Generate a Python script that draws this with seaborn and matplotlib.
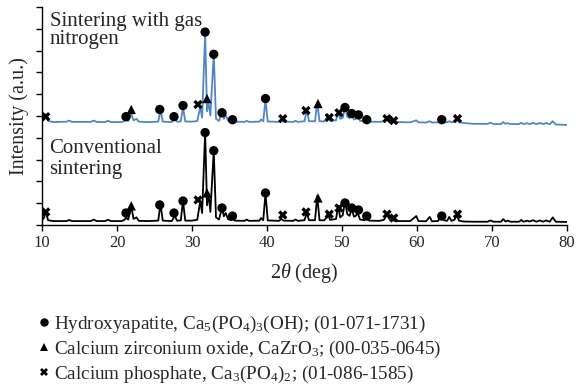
import matplotlib
matplotlib.use("Agg")
import matplotlib.pyplot as plt
import seaborn as sns
import pandas as pd

# ---- data ----
two_theta = [10.0, 10.3, 10.5, 10.8, 11.5, 13.3, 13.6, 14.0, 16.5, 16.9, 17.3, 18.4, 18.8, 19.2,
             20.6, 21.0, 21.2, 21.5, 21.9, 22.2, 22.6, 22.9, 24.0, 25.5, 25.8, 26.1, 27.3, 27.7,
             28.0, 28.5, 28.8, 29.1, 30.0, 30.7, 31.1, 31.35, 31.75, 32.0, 32.2, 32.45, 32.9, 33.2,
             33.6, 34.0, 34.25, 34.5, 34.8, 35.2, 35.4, 35.7, 37.0, 37.3, 37.6, 39.0, 39.2, 39.5,
             39.8, 40.1, 41.6, 41.9, 42.2, 43.5, 43.8, 44.1, 45.0, 45.3, 45.6, 46.4, 46.7, 47.0,
             47.6, 47.9, 48.1, 48.4, 49.2, 49.5, 49.75, 50.1, 50.4, 50.7, 51.0, 51.3, 51.6, 51.85,
             52.1, 52.4, 53.0, 53.3, 53.6, 55.0, 55.6, 56.0, 56.3, 56.6, 56.9, 57.6, 59.1, 59.9,
             60.2, 61.2, 61.7, 62.0, 62.8, 63.1, 63.3, 63.6, 64.0, 64.3, 64.6, 65.0, 65.3, 65.6,
             66.2, 67.5, 69.4, 69.8, 70.2, 71.2, 71.5, 71.8, 72.1, 72.5, 73.6, 73.9, 74.2, 74.7,
             75.0, 75.5, 75.9, 76.4, 76.8, 77.2, 77.7, 78.1, 78.5, 80.0]

int_nitrogen = [4.76, 4.87, 5.08, 4.78, 4.72, 4.74, 4.79, 4.73, 4.73, 4.79, 4.73, 4.72, 4.78, 4.72,
                4.72, 4.77, 4.84, 4.77, 5.09, 4.80, 4.87, 4.74, 4.72, 4.74, 5.27, 4.74, 4.72, 4.89,
                4.74, 4.75, 5.40, 4.75, 4.74, 4.77, 5.40, 4.92, 8.80, 5.22, 5.63, 5.02, 7.85, 4.87,
                4.77, 5.17, 4.87, 5.04, 4.80, 4.76, 4.80, 4.74, 4.73, 4.78, 4.73, 4.74, 4.84, 4.76,
                5.73, 4.75, 4.73, 4.80, 4.74, 4.73, 4.78, 4.73, 4.76, 5.27, 4.76, 4.76, 5.63, 4.76,
                4.75, 4.87, 5.04, 4.78, 4.80, 5.17, 4.87, 4.92, 5.40, 4.97, 4.90, 5.08, 4.84, 4.87,
                5.04, 4.78, 4.76, 4.80, 4.74, 4.73, 4.76, 4.85, 4.77, 4.80, 4.74, 4.72, 4.71, 4.80,
                4.71, 4.70, 4.76, 4.70, 4.71, 4.77, 4.80, 4.72, 4.71, 4.76, 4.71, 4.74, 4.92, 4.72,
                4.68, 4.64, 4.64, 4.69, 4.63, 4.63, 4.72, 4.64, 4.67, 4.63, 4.63, 4.69, 4.63, 4.67,
                4.63, 4.68, 4.63, 4.68, 4.63, 4.68, 4.62, 4.76, 4.61, 4.59]

int_conventional = [0.22, 0.35, 0.65, 0.22, 0.18, 0.18, 0.23, 0.18, 0.18, 0.25, 0.18, 0.18, 0.24, 0.18,
                    0.18, 0.24, 0.33, 0.25, 0.88, 0.28, 0.35, 0.19, 0.18, 0.20, 0.97, 0.20, 0.18, 0.42,
                    0.20, 0.21, 1.10, 0.20, 0.20, 0.24, 1.10, 0.55, 4.24, 0.90, 1.47, 0.60, 3.41, 0.35,
                    0.25, 0.78, 0.40, 0.55, 0.27, 0.22, 0.32, 0.20, 0.19, 0.25, 0.19, 0.20, 0.32, 0.22,
                    1.47, 0.21, 0.19, 0.28, 0.20, 0.19, 0.25, 0.19, 0.22, 0.55, 0.22, 0.22, 1.34, 0.22,
                    0.21, 0.33, 0.55, 0.24, 0.27, 0.88, 0.35, 0.45, 1.10, 0.50, 0.42, 0.74, 0.38, 0.42,
                    0.55, 0.25, 0.22, 0.50, 0.20, 0.19, 0.24, 0.50, 0.28, 0.41, 0.20, 0.18, 0.18, 0.41,
                    0.18, 0.17, 0.37, 0.17, 0.18, 0.35, 0.50, 0.22, 0.19, 0.37, 0.19, 0.24, 0.46, 0.20,
                    0.16, 0.15, 0.15, 0.21, 0.15, 0.15, 0.27, 0.16, 0.20, 0.15, 0.15, 0.23, 0.15, 0.20,
                    0.16, 0.22, 0.15, 0.21, 0.15, 0.21, 0.15, 0.35, 0.15, 0.14]

# phase markers
ha_x = [21.2, 25.7, 27.6, 28.8, 31.75, 32.9, 34.0, 35.4, 39.8, 50.4, 51.3, 52.2, 53.3, 63.3]
ha_y_nitrogen = [4.97, 5.30, 4.97, 5.48, 8.85, 7.83, 5.15, 4.83, 5.80, 5.39, 5.11, 5.05, 4.83, 4.83]
ha_y_conventional = [0.55, 0.92, 0.55, 1.10, 4.24, 3.41, 0.78, 0.41, 1.47, 1.01, 0.78, 0.69, 0.41, 0.41]

cz_x = [21.9, 32.0, 46.8]
cz_y_nitrogen = [5.30, 5.80, 5.57]
cz_y_conventional = [0.88, 1.47, 1.24]

cp_x = [10.5, 30.8, 42.1, 45.2, 48.3, 49.6, 56.0, 56.9, 65.4]
cp_y_nitrogen = [4.97, 5.53, 4.88, 5.25, 4.93, 5.15, 4.88, 4.79, 4.88]
cp_y_conventional = [0.60, 1.15, 0.46, 0.60, 0.50, 0.78, 0.50, 0.32, 0.50]

phase_labels = [
    "Hydroxyapatite, Ca$_5$(PO$_4$)$_3$(OH); (01-071-1731)",
    "Calcium zirconium oxide, CaZrO$_3$; (00-035-0645)",
    "Calcium phosphate, Ca$_3$(PO$_4$)$_2$; (01-086-1585)",
]
curve_labels = ["Sintering with gas\nnitrogen", "Conventional\nsintering"]
x_ticks = [10, 20, 30, 40, 50, 60, 70, 80]

# ---- styling ----
sns.set_style("ticks")
plt.rcParams["font.family"] = ["Liberation Serif", "DejaVu Serif"]
plt.rcParams["mathtext.fontset"] = "custom"
plt.rcParams["mathtext.rm"] = "Liberation Serif"
plt.rcParams["mathtext.it"] = "Liberation Serif:italic"

fig = plt.figure(figsize=(5.78, 3.91), dpi=100)
ax = fig.add_axes([42 / 578, 1 - 225 / 391, (567 - 42) / 578, (225 - 7) / 391])

lines_df = pd.DataFrame({"two_theta": two_theta, "n2": int_nitrogen, "conv": int_conventional})
sns.lineplot(data=lines_df, x="two_theta", y="n2", color="#4f86c6", lw=1.3, ax=ax,
             estimator=None, sort=False)
sns.lineplot(data=lines_df, x="two_theta", y="conv", color="black", lw=1.3, ax=ax,
             estimator=None, sort=False)

mk = pd.DataFrame({
    "x": ha_x * 2 + cz_x * 2 + cp_x * 2,
    "y": ha_y_nitrogen + ha_y_conventional + cz_y_nitrogen + cz_y_conventional
         + cp_y_nitrogen + cp_y_conventional,
    "phase": [phase_labels[0]] * (2 * len(ha_x)) + [phase_labels[1]] * (2 * len(cz_x))
             + [phase_labels[2]] * (2 * len(cp_x)),
})
sns.scatterplot(data=mk, x="x", y="y", style="phase", style_order=phase_labels,
                markers={phase_labels[0]: "o", phase_labels[1]: "^", phase_labels[2]: "X"},
                color="black", s=45, linewidth=0, ax=ax, zorder=5)

ax.set_xlim(10, 80)
ax.set_ylim(0, 10)
ax.set_xticks(x_ticks)
ax.set_xticklabels([str(t) for t in x_ticks], fontsize=12)
ax.set_yticks(range(0, 11))
ax.set_yticklabels([])
ax.tick_params(direction="out", length=4, width=1, color="black")
for s in ["top", "right"]:
    ax.spines[s].set_visible(False)
for s in ["left", "bottom"]:
    ax.spines[s].set_color("black")
    ax.spines[s].set_linewidth(1.0)

ax.set_xlabel(r"2$\it{\theta}$ (deg)", fontsize=14.5, labelpad=7)
ax.set_ylabel("Intensity (a.u.)", fontsize=14.5, labelpad=2)

ax.text(11.0, 9.78, curve_labels[0], fontsize=15, va="top", ha="left", linespacing=0.92)
ax.text(11.0, 3.93, curve_labels[1], fontsize=15, va="top", ha="left", linespacing=1.15)

sns.move_legend(ax, loc="upper left", bbox_to_anchor=(34 / 578, 1 - 314 / 391),
                bbox_transform=fig.transFigure, frameon=False, title=None,
                fontsize=13.8, handletextpad=0.05, labelspacing=0.2,
                handlelength=1.0, borderaxespad=0, borderpad=0, markerscale=0.9)

fig.savefig("out.png", dpi=100)
